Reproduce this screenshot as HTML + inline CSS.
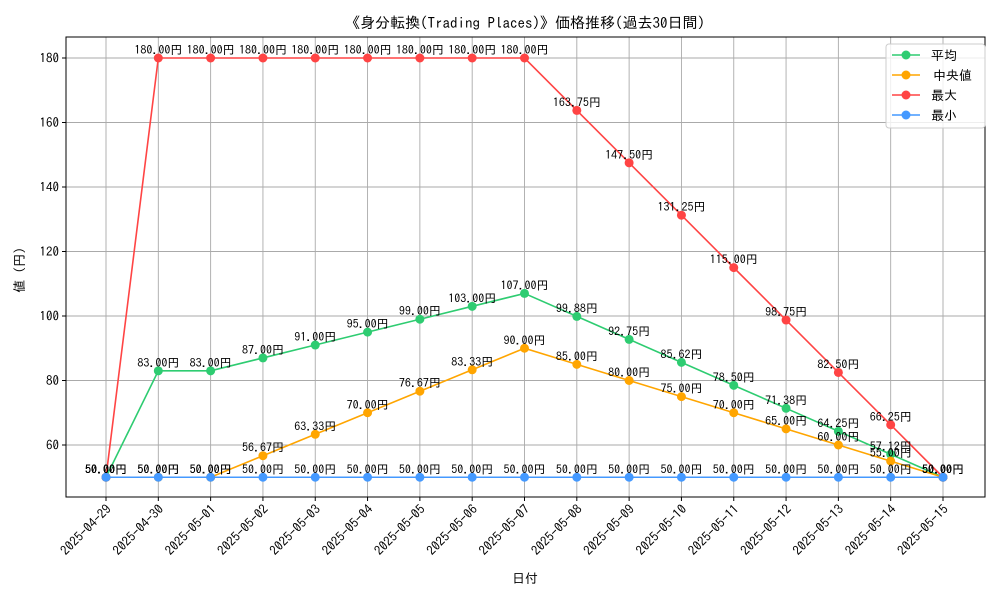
<!DOCTYPE html>
<html><head><meta charset="utf-8"><style>
body{margin:0;background:#fff;}
svg{display:block;font-family:"IPAGothic","Liberation Sans","Noto Sans CJK JP",sans-serif;}
</style></head><body>
<svg id="chart" width="1000" height="600" viewBox="0 0 1000 600"></svg>
<script>
const dates=["2025-04-29","2025-04-30","2025-05-01","2025-05-02","2025-05-03","2025-05-04","2025-05-05","2025-05-06","2025-05-07","2025-05-08","2025-05-09","2025-05-10","2025-05-11","2025-05-12","2025-05-13","2025-05-14","2025-05-15"];
const avgVals=[50,83,83,87,91,95,99,103,107,99.88,92.75,85.62,78.50,71.38,64.25,57.12,50];
const medVals=[50,50,50,56.67,63.33,70,76.67,83.33,90,85,80,75,70,65,60,55,50];
const maxVals=[50,180,180,180,180,180,180,180,180,163.75,147.5,131.25,115,98.75,82.5,66.25,50];
const minVals=[50,50,50,50,50,50,50,50,50,50,50,50,50,50,50,50,50];
const yTicks=[60,80,100,120,140,160,180];
const seriesNames=["平均","中央値","最大","最小"];
const seriesColors=["#2ecc71","#ffa500","#ff4444","#4499ff"];
const seriesData=[avgVals,medVals,maxVals,minVals];

const svg=document.getElementById('chart');
const NS='http://www.w3.org/2000/svg';
const L=66,R=985,T=37,B=497;
const x=i=>106+i*(943-106)/(dates.length-1);
const y=v=>58+(180-v)*(445-58)/120;
function mk(tag,attrs,parent){const e=document.createElementNS(NS,tag);for(const k in attrs)e.setAttribute(k,attrs[k]);(parent||svg).appendChild(e);return e;}

const grid=mk('g',{});


dates.forEach((d,i)=>{mk('line',{x1:x(i),x2:x(i),y1:T,y2:B,stroke:'#aaaaaa','stroke-width':0.9},grid);});
yTicks.forEach(v=>{mk('line',{x1:L,x2:R,y1:y(v),y2:y(v),stroke:'#aaaaaa','stroke-width':0.9},grid);});
mk('rect',{x:L,y:T,width:R-L,height:B-T,fill:'none',stroke:'#000','stroke-width':1});

const yax=mk('g',{});


yTicks.forEach(v=>{
 mk('line',{x1:L-4,x2:L,y1:y(v),y2:y(v),stroke:'#000'},yax);
 const t=mk('text',{x:L-7,y:y(v)+4.5,'text-anchor':'end','font-size':13},yax);t.textContent=v;
});
const xax=mk('g',{});


dates.forEach((d,i)=>{
 mk('line',{x1:x(i),x2:x(i),y1:B,y2:B+4,stroke:'#000'},xax);
 const ax=x(i)+6, ay=B+13;
 const t=mk('text',{x:ax,y:ay,'text-anchor':'end','font-size':13,transform:`rotate(-45 ${ax} ${ay})`},xax);t.textContent=d;
});

seriesData.forEach((vals,s)=>{
 const g=mk('g',{});
 
 
 mk('polyline',{points:vals.map((v,i)=>x(i)+','+y(v)).join(' '),fill:'none',stroke:seriesColors[s],'stroke-width':1.6},g);
 vals.forEach((v,i)=>{
  const c=mk('circle',{cx:x(i),cy:y(v),r:4.5,fill:seriesColors[s]},g);
  
  
 });
});
seriesData.forEach((vals,s)=>{
 vals.forEach((v,i)=>{
  const t=mk('text',{x:x(i),y:y(v)-4,'text-anchor':'middle','font-size':12,fill:'#000'});
  
  
  t.textContent=v.toFixed(2)+'円';
 });
});

let t=mk('text',{x:525,y:28,'text-anchor':'middle','font-size':15});

t.textContent='《身分転換(Trading Places)》価格推移(過去30日間)';
t=mk('text',{x:525,y:583,'text-anchor':'middle','font-size':13});
t.textContent='日付';
t=mk('text',{x:24,y:270,'text-anchor':'middle','font-size':13,transform:'rotate(-90 24 270)'});
t.textContent='値 (円)';

const lg=mk('g',{});


mk('rect',{x:886,y:44,width:99,height:84,rx:3,fill:'#fff',stroke:'#ccc','fill-opacity':0.8},lg);
seriesNames.forEach((n,s)=>{
 const yy=55+s*20;
 const e=mk('g',{},lg);
 
 
 mk('line',{x1:892,x2:920,y1:yy,y2:yy,stroke:seriesColors[s],'stroke-width':1.6},e);
 mk('circle',{cx:906,cy:yy,r:4.5,fill:seriesColors[s]},e);
 const tt=mk('text',{x:s==1?933:931,y:yy+5,'font-size':13},e);tt.textContent=n;
});
</script>
</body></html>
